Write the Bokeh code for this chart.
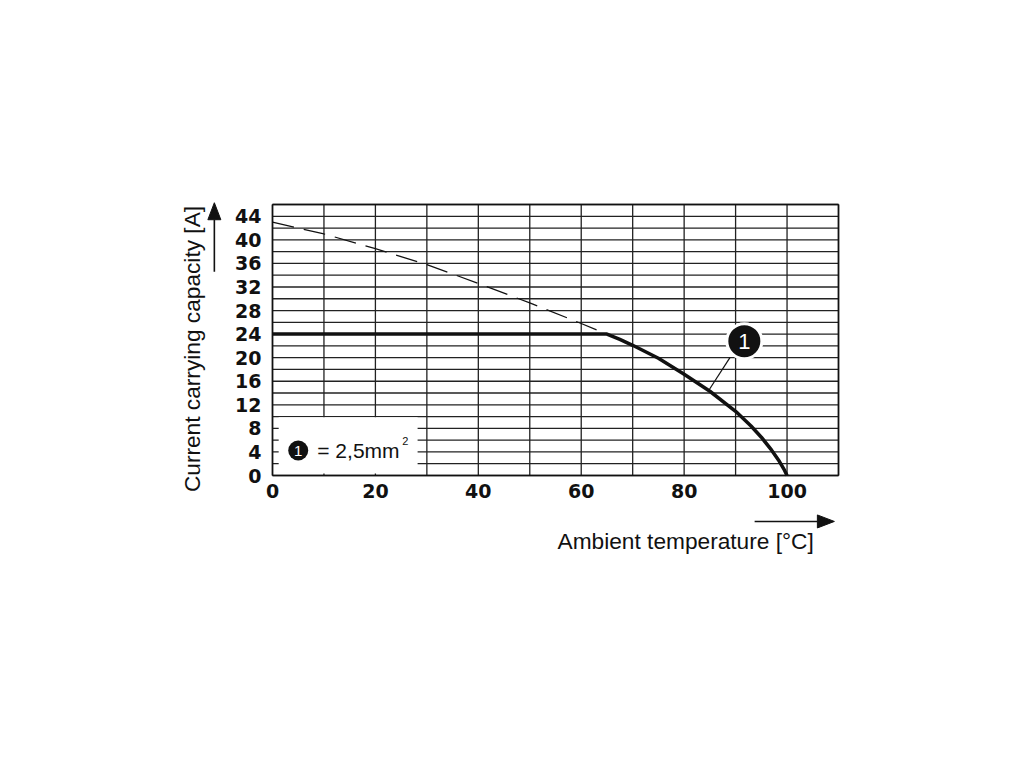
import math
from bokeh.plotting import figure
from bokeh.models import Range1d, FixedTicker
from bokeh.core.properties import value
from bokeh.embed import file_html
from bokeh.resources import INLINE

# ---- data ----
x_ticks = [0, 20, 40, 60, 80, 100]
y_ticks = [0, 4, 8, 12, 16, 20, 24, 28, 32, 36, 40, 44]
x_grid = [0, 10, 20, 30, 40, 50, 60, 70, 80, 90, 100, 110]
y_grid = list(range(0, 47, 2))
x_lim = [0, 110]
y_lim = [0, 46]

# solid derating curve (2.5 mm²)
solid_x = [0, 65, 67.5, 70, 75, 80, 85, 90, 93, 95, 97, 98.5, 99.5, 100]
solid_y = [24, 24, 23.1, 22.1, 19.9, 17.2, 14.3, 10.9, 8.4, 6.5, 4.3, 2.4, 0.9, 0]

# dashed (theoretical) curve
dash_x = [0, 10, 20, 30, 40, 50, 60, 65]
dash_y = [43, 41, 38.5, 35.8, 32.6, 29.3, 25.8, 24.0]

x_title = "Ambient temperature [°C]"
y_title = "Current carrying capacity [A]"
legend_text = "= 2,5mm"
marker_text = "1"

FONT = "Liberation Sans"
TICK_FONT = "DejaVu Sans"
INK = "#111111"

# ---- layout: chart box 566 x 271 px; the drawing frame is larger so that
# titles and arrows can be drawn in data space outside the chart box ----
W, H = 1000, 745
BOX_L, BOX_T, BOX_W, BOX_H = 272, 204, 566, 271
sx = BOX_W / (x_lim[1] - x_lim[0])
sy = BOX_H / (y_lim[1] - y_lim[0])
FR_L, FR_R, FR_T, FR_B = 160, 870, 190, 575
xr = Range1d(x_lim[0] - (BOX_L - FR_L) / sx, x_lim[1] + (FR_R - BOX_L - BOX_W) / sx)
yr = Range1d(y_lim[0] - (FR_B - BOX_T - BOX_H) / sy, y_lim[1] + (BOX_T - FR_T) / sy)

p = figure(width=W, height=H, output_backend="svg", toolbar_location=None,
           x_range=xr, y_range=yr,
           min_border_left=FR_L, min_border_right=W - FR_R,
           min_border_top=FR_T, min_border_bottom=H - FR_B)
p.background_fill_color = "white"
p.border_fill_color = "white"
p.outline_line_color = None
p.xgrid.visible = False
p.ygrid.visible = False

# axes placed at the chart box edges
p.xaxis.ticker = FixedTicker(ticks=x_ticks)
p.yaxis.ticker = FixedTicker(ticks=y_ticks)
p.xaxis.fixed_location = y_lim[0]
p.yaxis.fixed_location = x_lim[0]
for ax in (p.xaxis[0], p.yaxis[0]):
    ax.axis_line_color = None
    ax.major_tick_line_color = None
    ax.minor_tick_line_color = None
    ax.major_tick_in = 0
    ax.major_tick_out = 0
    ax.major_label_text_font = TICK_FONT
    ax.major_label_text_font_style = "bold"
    ax.major_label_text_font_size = "19px"
    ax.major_label_text_color = INK
p.xaxis.major_label_standoff = 8
p.yaxis.major_label_standoff = 11

# grid lines of the chart box
p.segment(x0=x_grid, x1=x_grid, y0=[y_lim[0]] * len(x_grid), y1=[y_lim[1]] * len(x_grid),
          line_color="#222222", line_width=1.3)
p.segment(x0=[x_lim[0]] * len(y_grid), x1=[x_lim[1]] * len(y_grid), y0=y_grid, y1=y_grid,
          line_color="#222222", line_width=1.3)
# box outline (slightly heavier)
p.segment(x0=[x_lim[0], x_lim[1], x_lim[0], x_lim[0]],
          x1=[x_lim[0], x_lim[1], x_lim[1], x_lim[1]],
          y0=[y_lim[0], y_lim[0], y_lim[0], y_lim[1]],
          y1=[y_lim[1], y_lim[1], y_lim[0], y_lim[1]],
          line_color=INK, line_width=1.6)

# white legend box
p.quad(left=[1.2], right=[28.2], bottom=[0.35], top=[9.9],
       fill_color="white", line_color=None)

# curves
p.line(dash_x, dash_y, line_color=INK, line_width=1.2, line_dash="22 10")
p.line(solid_x, solid_y, line_color=INK, line_width=3.5, line_join="round")

# callout
p.line([88.9, 84.9], [20.0, 14.6], line_color=INK, line_width=1.2)
p.scatter([91.7], [22.8], size=35, marker="circle", fill_color=INK,
          line_color="white", line_width=3)
p.text([91.7], [22.8], text=[marker_text], text_color="white",
       text_font=value(FONT), text_font_size="22px",
       text_align="center", text_baseline="middle")

# legend entry
p.scatter([5.0], [4.24], size=20, marker="circle", fill_color=INK, line_color=None)
p.text([5.0], [4.24], text=[marker_text], text_color="white",
       text_font=value(FONT), text_font_size="15px",
       text_align="center", text_baseline="middle")
p.text([8.7], [4.24], text=[legend_text], text_color=INK,
       text_font=value(FONT), text_font_size="21px",
       text_align="left", text_baseline="middle")
p.text([25.2], [5.9], text=["2"], text_color=INK,
       text_font=value(FONT), text_font_size="11px",
       text_align="left", text_baseline="middle")

# axis titles
p.text([55.4], [-11.2], text=[x_title], text_color=INK,
       text_font=value(FONT), text_font_size="22.7px",
       text_align="left", text_baseline="middle")
p.text([-15.55], [21.47], text=[y_title], text_color=INK,
       text_font=value(FONT), text_font_size="22.7px",
       text_align="center", text_baseline="middle", angle=math.pi / 2)

# arrows next to the titles
HEAD_L, HEAD_W = 17, 6.5   # px
ax0, ax1, ay = 93.7, 109.2, -7.8
p.segment(x0=[ax0], x1=[ax1 - HEAD_L / sx], y0=[ay], y1=[ay], line_color=INK, line_width=1.6)
p.patch([ax1 - HEAD_L / sx, ax1, ax1 - HEAD_L / sx],
        [ay - HEAD_W / sy, ay, ay + HEAD_W / sy], fill_color=INK, line_color=INK, line_width=1)
bx, by0, by1 = -11.3, 34.6, 46.3
p.segment(x0=[bx], x1=[bx], y0=[by0], y1=[by1 - HEAD_L / sy], line_color=INK, line_width=1.6)
p.patch([bx - HEAD_W / sx, bx, bx + HEAD_W / sx],
        [by1 - HEAD_L / sy, by1, by1 - HEAD_L / sy], fill_color=INK, line_color=INK, line_width=1)

open("out.html", "w").write(file_html(p, INLINE))
